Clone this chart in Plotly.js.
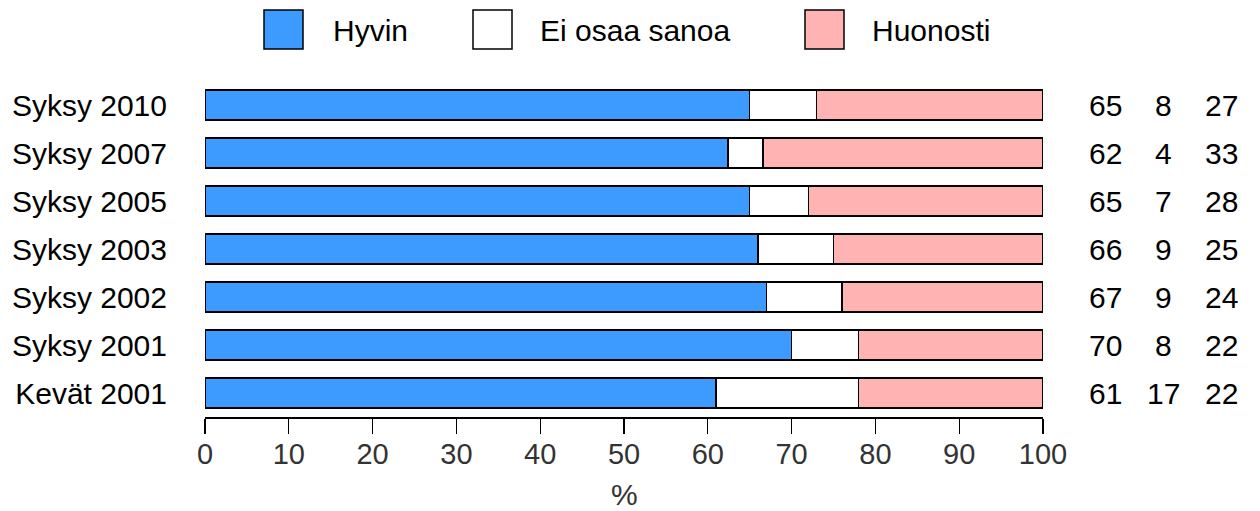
<!DOCTYPE html>
<html>
<head>
<meta charset="utf-8">
<script src="https://cdn.plot.ly/plotly-3.0.1.min.js"></script>
<style>html,body{margin:0;padding:0;background:#fff;}#chart{width:1260px;height:511px;}</style>
</head>
<body>
<div id="chart"></div>
<script>
const categories = ['Syksy 2010', 'Syksy 2007', 'Syksy 2005', 'Syksy 2003', 'Syksy 2002', 'Syksy 2001', 'Kevät 2001'];
const hyvin    = [65, 62.4, 65, 66, 67, 70, 61];
const eiOsaa   = [8, 4.2, 7, 9, 9, 8, 17];
const huonosti = [27, 33.4, 28, 25, 24, 22, 22];
const seriesNames = ['Hyvin', 'Ei osaa sanoa', 'Huonosti'];
const xTicks = [0, 10, 20, 30, 40, 50, 60, 70, 80, 90, 100];
const xTitle = '%';

const colors = ['#3D9BFF', '#FFFFFF', '#FFB3B3'];
const seriesVals = [hyvin, eiOsaa, huonosti];
const FONT = 'Liberation Sans, Arial, Helvetica, sans-serif';
const FS = 30;

const traces = seriesVals.map((vals, i) => ({
  type: 'bar',
  orientation: 'h',
  name: seriesNames[i],
  x: vals,
  y: categories,
  width: 0.625,
  marker: {color: colors[i], line: {color: '#000', width: 1.5}},
  hoverinfo: 'x+y+name',
  showlegend: false
}));

const annotations = [];
const colX = [1.074, 1.1432, 1.2136];
seriesVals.forEach((vals, i) => {
  vals.forEach((v, j) => {
    annotations.push({
      xref: 'paper', yref: 'y', x: colX[i], y: categories[j],
      text: String(Math.round(v)), showarrow: false,
      xanchor: 'center', yanchor: 'middle',
      font: {family: FONT, size: FS, color: '#000'}
    });
  });
});

// Legend (drawn manually to mimic the big boxes)
const legendBoxX = [264, 473, 805];
const legendTextX = [331, 538, 870];
const shapes = [];
seriesNames.forEach((n, i) => {
  const x0 = (legendBoxX[i] - 205) / 838;
  const x1 = (legendBoxX[i] + 39 - 205) / 838;
  shapes.push({
    type: 'rect', xref: 'paper', yref: 'paper',
    x0: x0, x1: x1,
    y0: (417 - 49) / 336, y1: (417 - 10) / 336,
    fillcolor: colors[i], line: {color: '#000', width: 1.5}
  });
  annotations.push({
    xref: 'paper', yref: 'paper',
    x: (legendTextX[i] - 205) / 838, y: (417 - 30) / 336,
    text: n, showarrow: false, xanchor: 'left', yanchor: 'middle',
    font: {family: FONT, size: FS, color: '#000'}
  });
});

// x-axis title
annotations.push({
  xref: 'paper', yref: 'paper', x: 0.5, y: (417 - 494) / 336,
  text: xTitle, showarrow: false, xanchor: 'center', yanchor: 'middle',
  font: {family: FONT, size: FS, color: '#333'}
});

const layout = {
  width: 1260, height: 511,
  margin: {l: 205, r: 217, t: 81, b: 94, pad: 0},
  paper_bgcolor: '#fff', plot_bgcolor: '#fff',
  barmode: 'stack',
  bargap: 0,
  showlegend: false,
  font: {family: FONT, size: FS, color: '#000'},
  xaxis: {
    range: [0, 100],
    tickvals: xTicks,
    ticktext: xTicks.map(String),
    showgrid: false, zeroline: false,
    showline: true, linecolor: '#000', linewidth: 2,
    ticks: 'outside', ticklen: 15, tickwidth: 1.2, tickcolor: '#000',
    ticklabelstandoff: -5,
    tickfont: {family: FONT, size: 29, color: '#333'},
    fixedrange: true
  },
  yaxis: {
    type: 'category',
    categoryorder: 'array', categoryarray: categories,
    range: [6.5, -0.5],
    showgrid: false, zeroline: false, showline: false,
    ticks: '', ticklabelstandoff: 37,
    tickfont: {family: FONT, size: FS, color: '#000'},
    fixedrange: true
  },
  shapes: shapes,
  annotations: annotations
};

Plotly.newPlot('chart', traces, layout, {displayModeBar: false, staticPlot: true});
</script>
</body>
</html>
